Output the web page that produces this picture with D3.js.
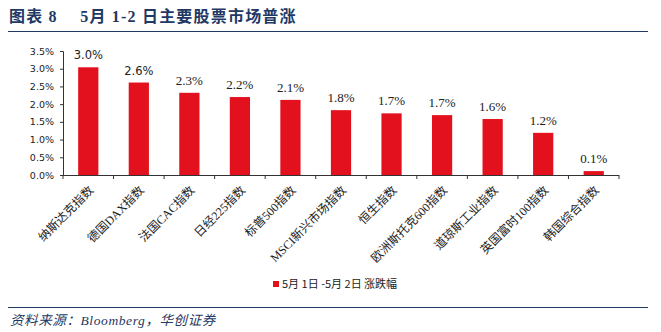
<!DOCTYPE html>
<html>
<head>
<meta charset="utf-8">
<script src="https://cdn.jsdelivr.net/npm/d3@7"></script>
<style>
  body { margin: 0; background: #fff; }
  svg { display: block; }
</style>
</head>
<body>
<svg id="chart" width="661" height="332"></svg>
<script>
// data
var categories = ["纳斯达克指数", "德国DAX指数", "法国CAC指数", "日经225指数", "标普500指数",
    "MSCI新兴市场指数", "恒生指数", "欧洲斯托克600指数", "道琼斯工业指数", "英国富时100指数", "韩国综合指数"];
var changes = [3.04, 2.61, 2.32, 2.20, 2.12, 1.83, 1.74, 1.69, 1.58, 1.19, 0.11];
var yTicks = [0, 0.5, 1.0, 1.5, 2.0, 2.5, 3.0, 3.5];
var seriesName = "5月 1日 -5月 2日 涨跌幅";
var titleText = "图表 8\u2003 5月 1-2 日主要股票市场普涨";
var sourceText = "资料来源：Bloomberg，华创证券";

var svg = d3.select("#chart"),
    navy = "#1f3864",
    red = "#e3111d",
    margin = { left: 63, top: 51, right: 42, bottom: 157 },
    width = 661, height = 332,
    plotBottom = height - margin.bottom;

// title + rules
svg.append("text")
    .attr("x", 9).attr("y", 22)
    .attr("fill", navy)
    .attr("font-family", "'Liberation Serif', 'Noto Sans CJK SC', serif")
    .attr("font-weight", "bold")
    .attr("font-size", 16)
    .attr("letter-spacing", 1.2)
    .text(titleText);

svg.append("line").attr("x1", 8).attr("x2", 648).attr("y1", 31.5).attr("y2", 31.5)
    .attr("stroke", navy).attr("stroke-width", 1.2);
svg.append("line").attr("x1", 8).attr("x2", 648).attr("y1", 307.5).attr("y2", 307.5)
    .attr("stroke", navy).attr("stroke-width", 1.2);

svg.append("text")
    .attr("x", 10).attr("y", 325)
    .attr("fill", navy)
    .attr("font-family", "'Liberation Serif', 'Noto Sans CJK SC', serif")
    .attr("font-style", "italic")
    .attr("font-size", 13.5)
    .attr("letter-spacing", 0.6)
    .text(sourceText);

// scales
var x = d3.scaleBand()
    .domain(categories)
    .range([margin.left, width - margin.right])
    .paddingInner(0.6)
    .paddingOuter(0.3);

var y = d3.scaleLinear()
    .domain([0, 3.5])
    .range([plotBottom, margin.top]);

// y axis
var yAxis = svg.append("g")
    .attr("transform", "translate(" + margin.left + ",0)")
    .call(d3.axisLeft(y).tickValues(yTicks).tickSize(3).tickPadding(6)
        .tickFormat(function (d) { return d.toFixed(1) + "%"; }));
yAxis.selectAll("path, line").attr("stroke", "#333");
yAxis.selectAll("text")
    .attr("fill", "#222")
    .attr("font-family", "'DejaVu Sans', sans-serif")
    .attr("font-size", 9.5);

// x axis: ticks sit on the band boundaries
var bounds = d3.range(categories.length + 1).map(function (i) { return margin.left + i * (width - margin.left - margin.right) / categories.length; });
svg.append("line")
    .attr("x1", margin.left).attr("x2", width - margin.right)
    .attr("y1", plotBottom + 0.5).attr("y2", plotBottom + 0.5)
    .attr("stroke", "#333");
svg.append("g").selectAll("line")
    .data(bounds)
    .join("line")
    .attr("x1", d => d).attr("x2", d => d)
    .attr("y1", plotBottom).attr("y2", plotBottom + 4)
    .attr("stroke", "#333");

// bars
svg.append("g").selectAll("rect")
    .data(categories)
    .join("rect")
    .attr("x", (d, i) => x(d))
    .attr("width", x.bandwidth())
    .attr("y", (d, i) => y(changes[i]))
    .attr("height", (d, i) => plotBottom - y(changes[i]))
    .attr("fill", red);

// value labels
svg.append("g").selectAll("text")
    .data(categories)
    .join("text")
    .attr("x", d => x(d) + x.bandwidth() / 2)
    .attr("y", (d, i) => y(changes[i]) - 8)
    .attr("text-anchor", "middle")
    .attr("fill", "#222")
    .attr("font-family", (d, i) => i < 2 ? "'DejaVu Sans', sans-serif" : "'Liberation Serif', serif")
    .attr("font-size", (d, i) => i < 2 ? 11.5 : 13)
    .text((d, i) => changes[i].toFixed(1) + "%");

// category labels
svg.append("g").selectAll("text")
    .data(categories)
    .join("text")
    .attr("transform", d => "translate(" + (x(d) + x.bandwidth() / 2 + 6) + "," + (plotBottom + 16) + ") rotate(-45)")
    .attr("text-anchor", "end")
    .attr("fill", "#222")
    .attr("font-family", "'Liberation Serif', 'Noto Sans CJK SC', serif")
    .attr("font-size", 12)
    .text(d => d);

// legend
var legend = svg.append("g").attr("transform", "translate(273,281)");
legend.append("rect").attr("width", 6).attr("height", 6).attr("fill", red);
legend.append("text")
    .attr("x", 9).attr("y", 7)
    .attr("fill", "#222")
    .attr("font-family", "'Noto Sans CJK SC', sans-serif")
    .attr("font-size", 11)
    .text(seriesName);
</script>
</body>
</html>
